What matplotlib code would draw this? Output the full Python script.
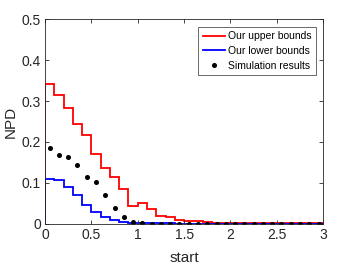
import numpy as np
import matplotlib
matplotlib.use("Agg")
import matplotlib.pyplot as plt

plt.rcParams["font.family"] = ["Liberation Sans", "DejaVu Sans"]

# bins of width 0.1 on [0, 3]
bin_edges = np.round(np.arange(0, 3.01, 0.1), 2)
upper = [0.341, 0.314, 0.282, 0.244, 0.216, 0.171, 0.136, 0.114, 0.084, 0.044,
         0.051, 0.036, 0.019, 0.015, 0.009, 0.0065, 0.005, 0.003, 0.002, 0.0015,
         0.001, 0.001, 0.0008, 0.0005, 0.0004, 0.0003, 0.0002, 0.0001, 0.0001, 0.0001]
lower = [0.110, 0.106, 0.089, 0.069, 0.045, 0.028, 0.0155, 0.009, 0.004, 0.002,
         0.001, 0.0005, 0.0002, 0.0001, 0, 0, 0, 0, 0, 0,
         0, 0, 0, 0, 0, 0, 0, 0, 0, 0]
sim = [0.184, 0.169, 0.164, 0.143, 0.115, 0.102, 0.070, 0.038, 0.017, 0.003,
       0.001, 0, 0, 0, 0, 0, 0, 0, 0, 0,
       0, 0, 0, 0, 0, 0, 0, 0, 0, 0]

AX_COL = "#262626"

fig = plt.figure(figsize=(3.46, 2.77), dpi=100)
ax = fig.add_axes([0.130, 0.193, 0.804, 0.737])

centers = bin_edges[:-1] + 0.05
ax.stairs(upper, bin_edges, color="red", lw=1.3, label="Our upper bounds")
ax.stairs(lower, bin_edges, color="blue", lw=1.3, label="Our lower bounds")
ax.plot(centers, sim, "o", color="black", ms=2.6, label="Simulation results")

ax.set_xlim(0, 3)
ax.set_ylim(0, 0.5)
ax.set_xticks([0, 0.5, 1, 1.5, 2, 2.5, 3])
ax.set_xticklabels(["0", "0.5", "1", "1.5", "2", "2.5", "3"])
ax.set_yticks([0, 0.1, 0.2, 0.3, 0.4, 0.5])
ax.set_yticklabels(["0", "0.1", "0.2", "0.3", "0.4", "0.5"])
ax.tick_params(direction="in", top=True, right=True, length=3, width=0.6,
               colors=AX_COL, labelsize=10, pad=3)
for s in ax.spines.values():
    s.set_linewidth(0.6)
    s.set_color(AX_COL)
ax.set_xlabel("start", fontsize=11, color=AX_COL, labelpad=6.5)
ax.set_ylabel("NPD", fontsize=11, color=AX_COL, labelpad=2.5)

leg = ax.legend(loc="upper right", fontsize=7.5, frameon=True, fancybox=False,
                edgecolor=AX_COL, handlelength=2.1, handletextpad=0.25,
                borderpad=0.45, labelspacing=0.45, borderaxespad=0.7)
leg.get_frame().set_linewidth(0.6)

fig.savefig("out.png", dpi=100, facecolor="white")
